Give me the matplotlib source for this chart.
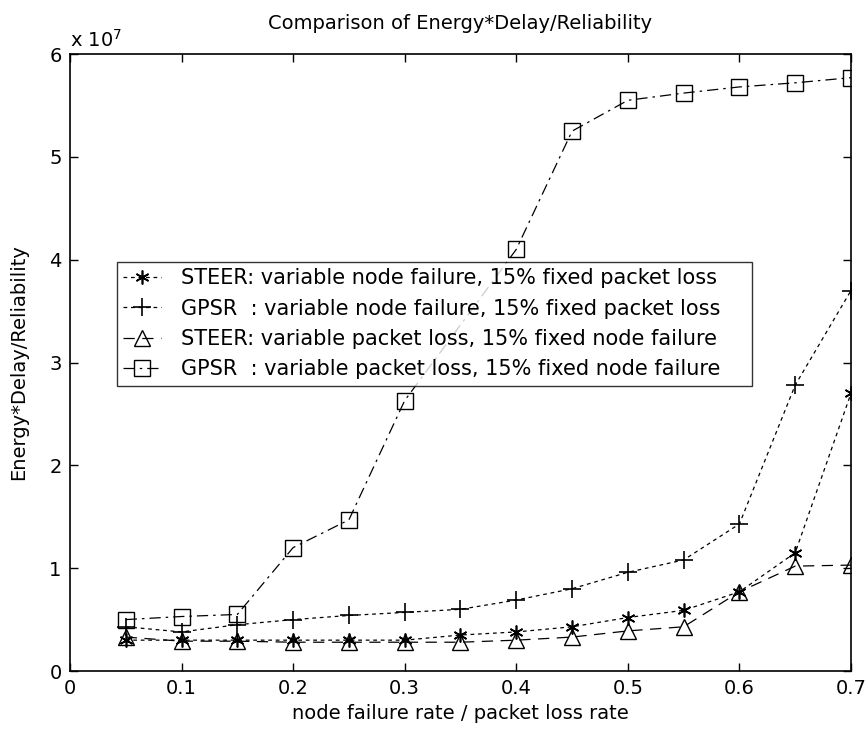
import numpy as np
import matplotlib
matplotlib.use('Agg')
import matplotlib.pyplot as plt
from matplotlib.ticker import FuncFormatter

plt.rcParams['font.family'] = ['DejaVu Sans']

# Datos
rate = [0.05, 0.1, 0.15, 0.2, 0.25, 0.3, 0.35, 0.4, 0.45, 0.5, 0.55, 0.6, 0.65, 0.7]
steer_node = [0.30e7, 0.30e7, 0.30e7, 0.30e7, 0.30e7, 0.30e7, 0.35e7, 0.38e7, 0.43e7,
              0.52e7, 0.59e7, 0.77e7, 1.15e7, 2.70e7]
gpsr_node = [0.43e7, 0.38e7, 0.45e7, 0.50e7, 0.54e7, 0.57e7, 0.60e7, 0.69e7, 0.80e7,
             0.96e7, 1.08e7, 1.43e7, 2.78e7, 3.70e7]
steer_pkt = [0.33e7, 0.29e7, 0.29e7, 0.28e7, 0.28e7, 0.28e7, 0.28e7, 0.30e7, 0.33e7,
             0.39e7, 0.43e7, 0.77e7, 1.02e7, 1.03e7]
rate_gpsr_pkt = [0.05, 0.1, 0.15, 0.2, 0.25, 0.3, 0.4, 0.45, 0.5, 0.55, 0.6, 0.65, 0.7]
gpsr_pkt = [0.50e7, 0.53e7, 0.55e7, 1.20e7, 1.47e7, 2.63e7, 4.10e7, 5.25e7, 5.55e7,
            5.62e7, 5.68e7, 5.72e7, 5.77e7]

labels = ['STEER: variable node failure, 15% fixed packet loss',
          'GPSR  : variable node failure, 15% fixed packet loss',
          'STEER: variable packet loss, 15% fixed node failure',
          'GPSR  : variable packet loss, 15% fixed node failure']

fig = plt.figure(figsize=(8.68, 7.36), dpi=100)
ax = fig.add_axes([0.0806, 0.0883, 0.8998, 0.8383])

lw = 0.9
ax.plot(rate, steer_node, color='k', lw=lw, marker=(6, 2, 0), ms=10, mew=1.2,
        ls=(0, (3, 3)), label=labels[0])
ax.plot(rate, gpsr_node, color='k', lw=lw, marker='+', ms=13, mew=1.2, ls=(0, (3, 3)),
        label=labels[1])
ax.plot(rate, steer_pkt, color='k', lw=lw, marker='^', ms=11, mfc='none', ls=(0, (9, 6)),
        label=labels[2])
ax.plot(rate_gpsr_pkt, gpsr_pkt, color='k', lw=lw, marker='s', ms=11, mfc='none',
        ls=(0, (9, 4, 2, 4)), label=labels[3])

ax.set_xlim(0, 0.7)
ax.set_ylim(0, 6e7)
ax.set_xticks(np.arange(0, 0.71, 0.1))
ax.set_yticks(np.arange(0, 6.1e7, 1e7))
ax.xaxis.set_major_formatter(FuncFormatter(lambda v, p: '0' if v == 0 else f'{v:.1f}'))
ax.yaxis.set_major_formatter(FuncFormatter(lambda v, p: f'{v / 1e7:.0f}'))
ax.tick_params(direction='in', top=True, right=True, length=6, width=1,
               labelsize=14, pad=6)
for s in ax.spines.values():
    s.set_linewidth(1.2)

ax.text(0.0, 1.005, r'x 10$^{7}$', transform=ax.transAxes, fontsize=14,
        ha='left', va='bottom')
ax.set_title('Comparison of Energy*Delay/Reliability', fontsize=14, pad=18)
ax.set_xlabel('node failure rate / packet loss rate', fontsize=14, labelpad=4)
ax.set_ylabel('Energy*Delay/Reliability', fontsize=14, labelpad=15)

leg = ax.legend(loc='upper left', bbox_to_anchor=(0.06, 0.563, 0.813, 0.1),
                mode='expand', fontsize=15, frameon=True, fancybox=False,
                edgecolor='k', handlelength=1.8, borderpad=0.3, labelspacing=0.5,
                handletextpad=1.0, borderaxespad=0)
leg.get_frame().set_linewidth(1.0)

fig.savefig('out.png', dpi=100)
